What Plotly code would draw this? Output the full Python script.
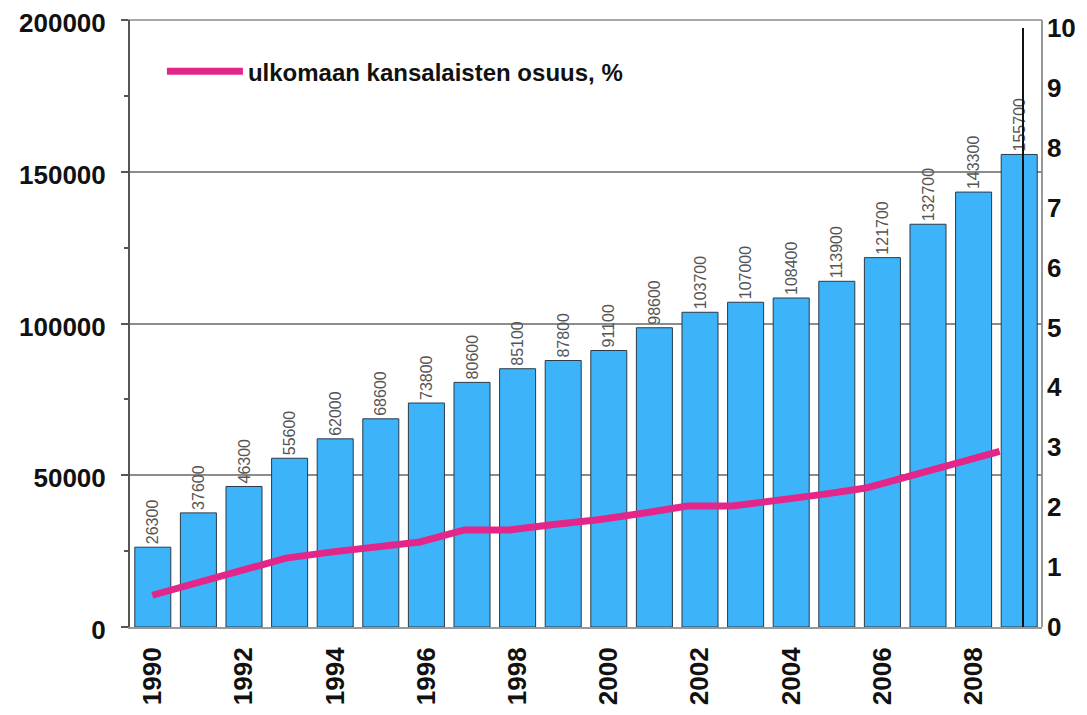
import plotly.graph_objects as go

years = [str(y) for y in range(1990, 2010)]
foreigners = [26300, 37600, 46300, 55600, 62000, 68600, 73800, 80600, 85100, 87800,
              91100, 98600, 103700, 107000, 108400, 113900, 121700, 132700, 143300, 155700]
share_pct = [0.53, 0.74, 0.93, 1.15, 1.25, 1.34, 1.42, 1.62, 1.62, 1.71,
             1.79, 1.90, 2.02, 2.02, 2.11, 2.21, 2.32, 2.53, 2.72, 2.93]
x_ticks = [str(y) for y in range(1990, 2010, 2)]
left_ticks = [0, 50000, 100000, 150000, 200000]
right_ticks = list(range(0, 11))
legend_name = "ulkomaan kansalaisten osuus, %"

FONT = "Liberation Sans"

fig = go.Figure()
fig.add_trace(go.Bar(
    x=years, y=foreigners, xaxis="x", yaxis="y",
    marker=dict(color="#3DB4FA", line=dict(color="#2a3a48", width=1)),
    text=[str(v) for v in foreigners], textposition="outside", textangle=-90,
    textfont=dict(family=FONT, size=16, color="#555555"),
    constraintext="none", cliponaxis=False, showlegend=False, hoverinfo="x+y",
))
fig.add_trace(go.Scatter(
    x=years, y=share_pct, xaxis="x2", yaxis="y2", mode="lines",
    line=dict(color="#E3268A", width=7), name=legend_name, showlegend=True,
))

fig.update_layout(
    width=1087, height=715,
    margin=dict(l=122, r=53, t=12, b=96, autoexpand=False),
    paper_bgcolor="white", plot_bgcolor="rgba(0,0,0,0)",
    bargap=0.21,
    font=dict(family=FONT, color="#111111"),
    xaxis=dict(
        type="category", domain=[0, 1], tickmode="array", tickvals=x_ticks,
        tickangle=-90, tickfont=dict(family=FONT, size=26, weight="bold", color="#111"),
        showline=True, linecolor="#999999", linewidth=2, ticks="", showgrid=False,
        ticklabelstandoff=8, automargin=False, ticklabeloverflow="allow",
    ),
    yaxis=dict(
        range=[0, 200000], tickvals=left_ticks, tickformat="d", showgrid=True, gridcolor="#8c8c8c",
        gridwidth=1.5, showline=True, linecolor="#555555", linewidth=2,
        ticks="outside", ticklen=7, tickcolor="#555555", tickwidth=1.5,
        minor=dict(dtick=25000, ticks="outside", ticklen=4, tickcolor="#555555", showgrid=False),
        tickfont=dict(family=FONT, size=26, weight="bold", color="#111"),
        ticklabelstandoff=10, ticklabelshift=3, zeroline=False, automargin=False,
        ticklabeloverflow="allow",
    ),
    xaxis2=dict(type="category", domain=[0, 0.978], anchor="y2", visible=False,
                automargin=False, range=[-0.5, len(years) - 0.5]),
    yaxis2=dict(
        domain=[0, 0.987], range=[0, 10], anchor="x2", side="right",
        tickvals=right_ticks, showgrid=False, zeroline=False,
        showline=True, linecolor="#111111", linewidth=1.5, ticks="",
        tickfont=dict(family=FONT, size=26, weight="bold", color="#111"),
        ticklabelstandoff=18, automargin=False, ticklabeloverflow="allow",
    ),
    legend=dict(
        x=0.035, y=0.952, xanchor="left", yanchor="top", bgcolor="rgba(0,0,0,0)",
        font=dict(family=FONT, size=24, weight="bold", color="#111"),
        itemwidth=76,
    ),
    shapes=[
        dict(type="line", xref="paper", yref="paper", x0=1, x1=1, y0=0, y1=1,
             line=dict(color="#999999", width=2), layer="below"),
        dict(type="line", xref="paper", yref="paper", x0=-0.008, x1=1, y0=1, y1=1,
             line=dict(color="#8c8c8c", width=1.5), layer="below"),
    ],
)

fig.write_html("out.html")
